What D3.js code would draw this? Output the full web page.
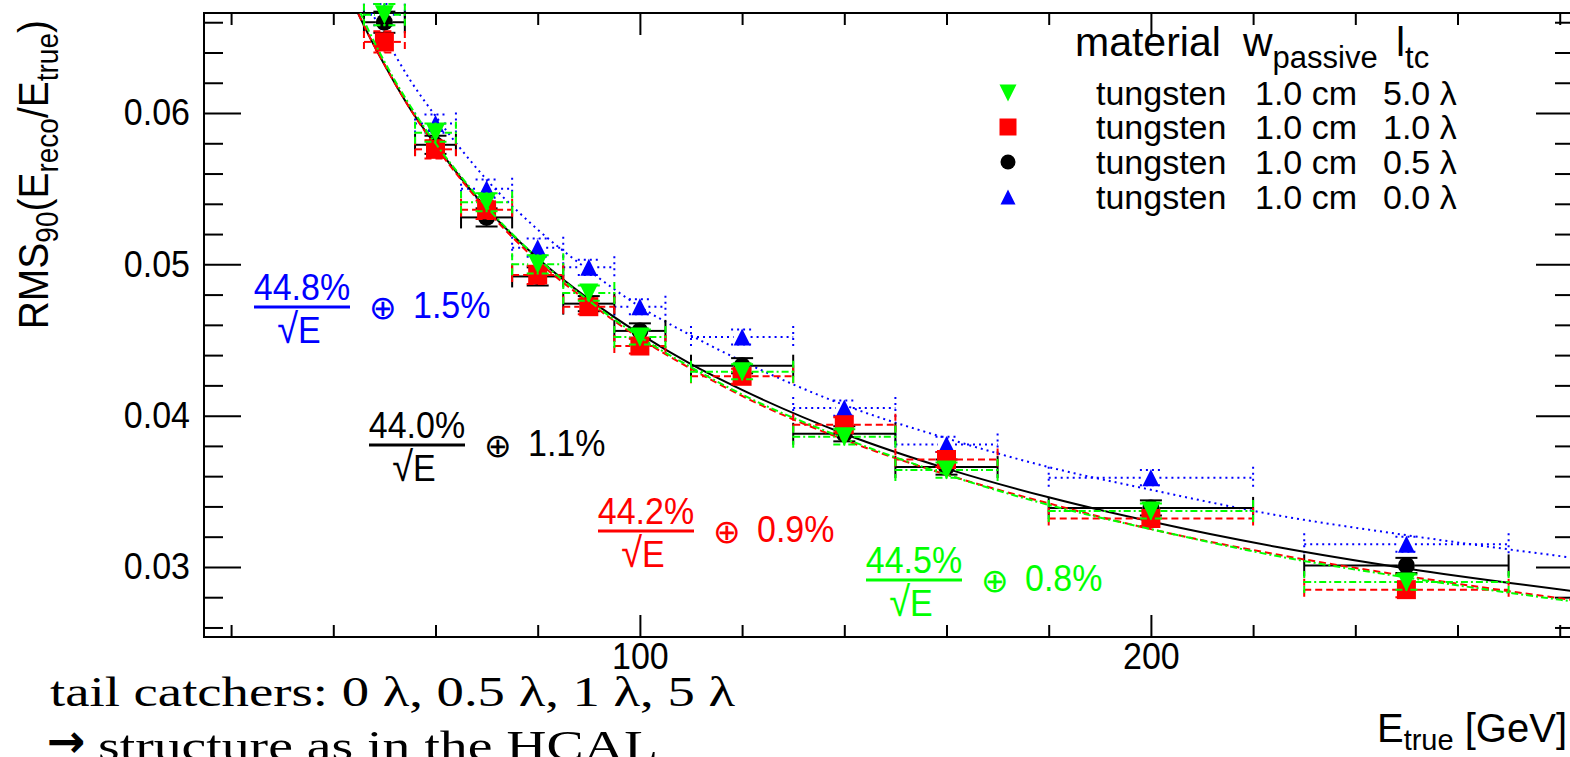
<!DOCTYPE html>
<html>
<head>
<meta charset="utf-8">
<script src="https://cdn.jsdelivr.net/npm/d3@7"></script>
<style>
  body { margin: 0; background: #fff; }
  svg { display: block; }
  text { font-family: "Liberation Sans", Arial, Helvetica, sans-serif; }
</style>
</head>
<body>
<svg id="chart" width="1570" height="757"></svg>
<script>
// beam energies and bin half-widths
const energies  = [50, 60, 70, 80, 90, 100, 120, 140, 160, 200, 250];
const energyErr = [4, 4, 5, 5, 5, 5, 10, 10, 10, 20, 20];

// RMS90(Ereco/Etrue) for each tail catcher length
const rmsTc00 = [0.0665, 0.0593, 0.0550, 0.0511, 0.0498, 0.0472, 0.0452, 0.0405, 0.0381, 0.0359, 0.0315]; // blue
const rmsTc05 = [0.0660, 0.0579, 0.0531, 0.0492, 0.0474, 0.0456, 0.0433, 0.0388, 0.0366, 0.0339, 0.0301]; // black
const rmsTc10 = [0.0647, 0.0576, 0.0536, 0.0493, 0.0472, 0.0446, 0.0426, 0.0394, 0.0371, 0.0332, 0.0285]; // red
const rmsTc50 = [0.0665, 0.0587, 0.0541, 0.0500, 0.0481, 0.0452, 0.0429, 0.0386, 0.0364, 0.0337, 0.0290]; // green
const rmsErr  = [0.0007, 0.0006, 0.0006, 0.0006, 0.0005, 0.0005, 0.0005, 0.0005, 0.0005, 0.0005, 0.0005];

// fit curves
const fitEnergies = [44, 47, 50, 55, 60, 65, 70, 80, 90, 100, 110, 120, 140, 160, 180, 200, 225, 250, 285];
const fitTc00 = [0.0692, 0.0670, 0.0651, 0.0622, 0.0598, 0.0576, 0.0556, 0.0523, 0.0496, 0.0472, 0.0453, 0.0436, 0.0407, 0.0385, 0.0366, 0.0351, 0.0334, 0.0321, 0.0305];
const fitTc05 = [0.0672, 0.0651, 0.0632, 0.0603, 0.0579, 0.0557, 0.0537, 0.0504, 0.0477, 0.0454, 0.0434, 0.0417, 0.0388, 0.0365, 0.0346, 0.0330, 0.0313, 0.0299, 0.0283];
const fitTc10 = [0.0672, 0.0651, 0.0632, 0.0603, 0.0578, 0.0556, 0.0536, 0.0502, 0.0475, 0.0451, 0.0431, 0.0413, 0.0384, 0.0361, 0.0342, 0.0325, 0.0308, 0.0294, 0.0277];
const fitTc50 = [0.0676, 0.0654, 0.0634, 0.0605, 0.0580, 0.0558, 0.0538, 0.0504, 0.0476, 0.0452, 0.0432, 0.0414, 0.0385, 0.0361, 0.0341, 0.0325, 0.0307, 0.0293, 0.0276];

// fit results shown as text
const fitStochastic = ["44.8%", "44.0%", "44.2%", "44.5%"];
const fitConstant   = ["1.5%", "1.1%", "0.9%", "0.8%"];

// legend table
const legendMaterial = ["tungsten", "tungsten", "tungsten", "tungsten"];
const legendWidth    = ["1.0 cm", "1.0 cm", "1.0 cm", "1.0 cm"];
const legendTc       = ["5.0 λ", "1.0 λ", "0.5 λ", "0.0 λ"];

const yTickLabels = [0.03, 0.04, 0.05, 0.06];
const xTickLabels = [100, 200];

const svg = d3.select("#chart");
const frameLeft = 204, frameRight = 1573, frameTop = 13, frameBottom = 637;
const stretch = 1.1; // ROOT's helvetica renders a little taller than Liberation Sans

let x = d3.scaleLinear().domain([14.7, 282.6]).range([frameLeft, frameRight]);
let y = d3.scaleLinear().domain([0.02537, 0.06661]).range([frameBottom, frameTop]);

// series in drawing order (green on top)
const series = [
    { values: rmsTc00, fit: fitTc00, color: "#0000ff", dash: "2,4", marker: "up", size: 17,
      label: { idx: 0, x: 254, bar: 307 } },
    { values: rmsTc05, fit: fitTc05, color: "#000000", dash: null, marker: "circle", size: 17,
      label: { idx: 1, x: 369, bar: 445 } },
    { values: rmsTc10, fit: fitTc10, color: "#ff0000", dash: "7,4", marker: "square", size: 19,
      label: { idx: 2, x: 598, bar: 531 } },
    { values: rmsTc50, fit: fitTc50, color: "#00ff00", dash: "7,3,2,3", marker: "down", size: 19,
      label: { idx: 3, x: 866, bar: 580 } }
];

function markerPath(type, s) {
    let h = s / 2;
    if (type === "up") return `M${-h},${h} L${h},${h} L0,${-h} Z`;
    if (type === "down") return `M${-h},${-h} L${h},${-h} L0,${h} Z`;
    if (type === "square") return `M${-h},${-h} H${h} V${h} H${-h} Z`;
    return d3.symbol(d3.symbolCircle, Math.PI * h * h)();
}

svg.append("defs").append("clipPath").attr("id", "frame-clip")
    .append("rect")
    .attr("x", frameLeft).attr("y", frameTop)
    .attr("width", frameRight - frameLeft).attr("height", frameBottom - frameTop);

// axes with inward ticks
function addAxis(axisFn, scale, values, size, tx, ty, labels, pad) {
    let ax = axisFn(scale).tickValues(values).tickSize(-size);
    if (labels) ax.tickFormat(labels).tickPadding(pad);
    else ax.tickFormat("");
    let g = svg.append("g")
        .attr("transform", `translate(${tx},${ty})`)
        .call(ax);
    g.select(".domain").remove();
    g.selectAll("line").attr("stroke", "#000").attr("stroke-width", 2);
    g.selectAll("text")
        .attr("fill", "#000")
        .attr("transform", `scale(1,${stretch})`)
        .style("font-size", "34px")
        .style("font-family", "'Liberation Sans', Arial, sans-serif");
    return g;
}

const xMinor = d3.range(20, 281, 20).filter(v => !xTickLabels.includes(v));
const yMinor = d3.range(0.026, 0.0665, 0.002).filter(v => !yTickLabels.some(t => Math.abs(t - v) < 1e-6));

addAxis(d3.axisBottom, x, xMinor, 12, 0, frameBottom);
addAxis(d3.axisBottom, x, xTickLabels, 22, 0, frameBottom, d3.format("d"), 5);
addAxis(d3.axisTop, x, xMinor, 12, 0, frameTop);
addAxis(d3.axisTop, x, xTickLabels, 22, 0, frameTop);
addAxis(d3.axisLeft, y, yMinor, 19, frameLeft, 0);
addAxis(d3.axisLeft, y, yTickLabels, 37, frameLeft, 0, d3.format(".2f"), 14);
addAxis(d3.axisRight, y, yMinor, 18, frameRight, 0);
addAxis(d3.axisRight, y, yTickLabels, 37, frameRight, 0);

// frame
svg.append("rect")
    .attr("x", frameLeft).attr("y", frameTop)
    .attr("width", frameRight - frameLeft).attr("height", frameBottom - frameTop)
    .attr("fill", "none").attr("stroke", "#000").attr("stroke-width", 2);

const line = d3.line()
    .x(d => x(d[0]))
    .y(d => y(d[1]))
    .curve(d3.curveMonotoneX);

const tick = 11; // end-of-error tick half length

series.forEach(s => {
    let g = svg.append("g");
    let ms = s.size / 2;

    // fit curve
    g.append("path")
        .datum(fitEnergies.map((e, i) => [e, s.fit[i]]))
        .attr("clip-path", "url(#frame-clip)")
        .attr("d", line)
        .attr("fill", "none")
        .attr("stroke", s.color)
        .attr("stroke-width", 2)
        .attr("stroke-dasharray", s.dash);

    let pts = energies.map((e, i) => ({ e: e, ex: energyErr[i], v: s.values[i], ev: rmsErr[i] }));

    let segs = [];
    pts.forEach(p => {
        let cx = x(p.e), cy = y(p.v);
        let x0 = x(p.e - p.ex), x1 = x(p.e + p.ex);
        let y0 = y(p.v - p.ev), y1 = y(p.v + p.ev);
        segs.push([x0, cy, cx - ms, cy], [cx + ms, cy, x1, cy]);
        segs.push([x0, cy - tick, x0, cy + tick], [x1, cy - tick, x1, cy + tick]);
        segs.push([cx - tick, y0, cx + tick, y0], [cx - tick, y1, cx + tick, y1]);
        if (y0 - cy > ms) segs.push([cx, cy + ms, cx, y0]);
        if (cy - y1 > ms) segs.push([cx, cy - ms, cx, y1]);
    });

    g.selectAll(".err")
        .data(segs)
        .enter()
        .append("line")
        .attr("class", "err")
        .attr("x1", d => d[0]).attr("y1", d => d[1])
        .attr("x2", d => d[2]).attr("y2", d => d[3])
        .attr("stroke", s.color)
        .attr("stroke-width", 2)
        .attr("stroke-dasharray", s.dash);

    g.selectAll(".marker")
        .data(pts)
        .enter()
        .append("path")
        .attr("class", "marker")
        .attr("transform", d => `translate(${x(d.e)},${y(d.v)})`)
        .attr("d", markerPath(s.marker, s.size))
        .attr("fill", s.color);

    // fit result text
    let L = s.label;
    let tg = svg.append("g").attr("fill", s.color).style("font-size", "34px");
    tg.append("text")
        .attr("transform", `translate(${L.x + 48},${L.bar - 7}) scale(1,${stretch})`)
        .attr("text-anchor", "middle")
        .text(fitStochastic[L.idx]);
    tg.append("rect")
        .attr("x", L.x).attr("y", L.bar - 1.5)
        .attr("width", 96).attr("height", 3);
    let rt = tg.append("text")
        .attr("transform", `translate(${L.x + 45},${L.bar + 36}) scale(1,${stretch})`)
        .attr("text-anchor", "middle");
    rt.append("tspan").style("font-size", "38px").text("√");
    rt.append("tspan").text("E");
    tg.append("text")
        .attr("x", L.x + 115).attr("y", L.bar + 12)
        .style("font-family", "'DejaVu Sans', sans-serif")
        .style("font-size", "33px")
        .text("⊕");
    tg.append("text")
        .attr("transform", `translate(${L.x + 159},${L.bar + 11}) scale(1,${stretch})`)
        .text(fitConstant[L.idx]);
});

// legend
const legendOrder = [3, 2, 1, 0];
const rowY = [93, 127, 162, 197];
let leg = svg.append("g").style("font-size", "34px");
leg.append("text").attr("x", 1075).attr("y", 56).style("font-size", "41px").text("material");
let wt = leg.append("text").attr("x", 1243).attr("y", 56).style("font-size", "41px");
wt.append("tspan").text("w");
wt.append("tspan").attr("dy", 12).style("font-size", "31px").text("passive");
let lt = leg.append("text").attr("x", 1396).attr("y", 56).style("font-size", "41px");
lt.append("tspan").text("l");
lt.append("tspan").attr("dy", 12).style("font-size", "31px").text("tc");

legendOrder.forEach((si, r) => {
    let s = series[si];
    leg.append("path")
        .attr("transform", `translate(1008,${rowY[r]})`)
        .attr("d", markerPath(s.marker, s.size - 2))
        .attr("fill", s.color);
    leg.append("text").attr("x", 1096).attr("y", rowY[r] + 12).text(legendMaterial[r]);
    leg.append("text").attr("x", 1255).attr("y", rowY[r] + 12).text(legendWidth[r]);
    leg.append("text").attr("x", 1383).attr("y", rowY[r] + 12).text(legendTc[r]);
});

// axis titles
let xt = svg.append("text")
    .attr("x", 1567).attr("y", 742)
    .attr("text-anchor", "end")
    .style("font-size", "40px");
xt.append("tspan").text("E");
xt.append("tspan").attr("dy", 8).style("font-size", "29px").text("true");
xt.append("tspan").attr("dy", -8).text(" [GeV]");

let yt = svg.append("text")
    .attr("transform", `translate(48,20) rotate(-90) scale(1,${stretch})`)
    .attr("text-anchor", "end")
    .style("font-size", "39px");
yt.append("tspan").text("RMS");
yt.append("tspan").attr("dy", 9).style("font-size", "28px").text("90");
yt.append("tspan").attr("dy", -9).text("(E");
yt.append("tspan").attr("dy", 9).style("font-size", "28px").text("reco");
yt.append("tspan").attr("dy", -9).text("/E");
yt.append("tspan").attr("dy", 9).style("font-size", "28px").text("true");
yt.append("tspan").attr("dy", -9).text(")");

// slide text below the plot
svg.append("text")
    .attr("x", 50).attr("y", 706)
    .attr("textLength", 685).attr("lengthAdjust", "spacingAndGlyphs")
    .style("font-family", "'Liberation Serif', serif")
    .style("font-size", "42px")
    .text("tail catchers: 0 λ, 0.5 λ, 1 λ, 5 λ");
svg.append("text")
    .attr("x", 47).attr("y", 757)
    .style("font-family", "'DejaVu Sans', sans-serif")
    .style("font-weight", "bold")
    .style("font-size", "46px")
    .text("→");
svg.append("text")
    .attr("x", 98).attr("y", 760)
    .attr("textLength", 560).attr("lengthAdjust", "spacingAndGlyphs")
    .style("font-family", "'Liberation Serif', serif")
    .style("font-size", "42px")
    .text("structure as in the HCAL");
</script>
</body>
</html>
